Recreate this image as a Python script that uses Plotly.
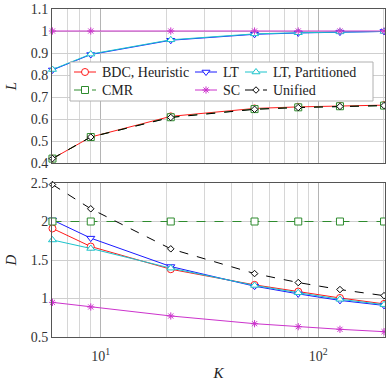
import plotly.graph_objects as go
from plotly.subplots import make_subplots

# Data
K = [6, 9, 21, 51, 81, 126, 201]

L_bdc = [0.42, 0.518, 0.612, 0.648, 0.655, 0.66, 0.663]
L_lt = [0.823, 0.893, 0.958, 0.985, 0.991, 0.995, 0.998]
L_ltp = [0.825, 0.895, 0.96, 0.987, 0.992, 0.996, 0.998]
L_cmr = [0.42, 0.518, 0.608, 0.645, 0.653, 0.658, 0.661]
L_sc = [1, 1, 1, 1, 1, 1, 1]
L_uni = [0.42, 0.518, 0.607, 0.644, 0.652, 0.657, 0.661]

D_bdc = [1.91, 1.675, 1.38, 1.177, 1.09, 1.007, 0.93]
D_lt = [2.02, 1.784, 1.415, 1.16, 1.06, 0.975, 0.91]
D_ltp = [1.76, 1.65, 1.394, 1.17, 1.075, 0.99, 0.92]
D_cmr = [2, 2, 2, 2, 2, 2, 2]
D_sc = [0.95, 0.89, 0.773, 0.673, 0.634, 0.60, 0.569]
D_uni = [2.48, 2.165, 1.645, 1.324, 1.207, 1.116, 1.037]

names = ["BDC, Heuristic", "LT", "LT, Partitioned", "CMR", "SC", "Unified"]

FONT = "Liberation Serif, serif"

# name: color, dash, symbol, marker size
styles = {
    "BDC, Heuristic": ("#ff1a1a", "solid", "circle", 7),
    "LT": ("#1a1aff", "solid", "triangle-down", 7),
    "LT, Partitioned": ("#1cc4cc", "solid", "triangle-up", 7),
    "CMR": ("#2e8b2e", "dash", "square", 7),
    "SC": ("#cc33cc", "solid", "asterisk-open", 6),
    "Unified": ("#000000", "dash", "diamond", 5),
}


def marker_for(color, symbol, size):
    fill = color if symbol.endswith("-open") else "white"
    return dict(symbol=symbol, size=size, color=fill, line=dict(color=color, width=1))


L_series = [L_bdc, L_lt, L_ltp, L_cmr, L_sc, L_uni]
D_series = [D_bdc, D_lt, D_ltp, D_cmr, D_sc, D_uni]

fig = make_subplots(rows=2, cols=1, shared_xaxes=True)

for name, ly, dy in zip(names, L_series, D_series):
    color, dash, symbol, msize = styles[name]
    for row, yy in ((1, ly), (2, dy)):
        fig.add_trace(go.Scatter(
            x=K, y=yy, mode="lines+markers", name=name, showlegend=False,
            line=dict(color=color, width=1, dash=dash),
            marker=marker_for(color, symbol, msize),
            cliponaxis=False,
        ), row=row, col=1)

# Hand-made legend in pixel coordinates on an overlay axis
fig.add_trace(go.Scatter(
    x=[70, 373, 373, 70, 70], y=[62, 62, 101, 101, 62],
    mode="lines", fill="toself", fillcolor="white",
    line=dict(color="#b0b0b0", width=1), showlegend=False, hoverinfo="skip",
    xaxis="x3", yaxis="y3",
))
col_x = [74, 195, 245]
row_y = [72, 90]
for i, name in enumerate(names):
    color, dash, symbol, msize = styles[name]
    x0 = col_x[i % 3]
    y0 = row_y[i // 3]
    fig.add_trace(go.Scatter(
        x=[x0, x0 + 22], y=[y0, y0], mode="lines",
        line=dict(color=color, width=1, dash="dash" if dash == "dash" else "solid"),
        showlegend=False, hoverinfo="skip", xaxis="x3", yaxis="y3",
    ))
    fig.add_trace(go.Scatter(
        x=[x0 + 11], y=[y0], mode="markers",
        marker=marker_for(color, symbol, msize),
        showlegend=False, hoverinfo="skip", xaxis="x3", yaxis="y3",
    ))
    fig.add_annotation(
        x=x0 + 26, y=y0, xref="x3", yref="y3", text=name, showarrow=False,
        xanchor="left", yanchor="middle", font=dict(family=FONT, size=14, color="#222"),
    )

minor_vals = [6, 7, 8, 9, 20, 30, 40, 50, 60, 70, 80, 90, 200]
xcommon = dict(
    type="log", range=[0.776, 2.3075], tickvals=[10, 100],
    ticktext=["10<sup>1</sup>", "10<sup>2</sup>"],
    showgrid=True, gridcolor="#b4b4b4", gridwidth=1,
    minor=dict(tickvals=minor_vals, showgrid=True, gridcolor="#d6d6d6", gridwidth=1),
    showline=True, linecolor="#555", linewidth=1, mirror=True,
    zeroline=False, ticks="", ticklabelstandoff=6,
    tickfont=dict(family=FONT, size=14, color="#333"),
)
fig.update_xaxes(**xcommon)
fig.update_xaxes(showticklabels=False, row=1, col=1)
fig.update_xaxes(title=dict(text="<i>K</i>", font=dict(family=FONT, size=15, color="#222"),
                            standoff=4), row=2, col=1)

ycommon = dict(
    showgrid=True, gridcolor="#cfcfcf", gridwidth=1,
    showline=True, linecolor="#555", linewidth=1, mirror=True,
    zeroline=False, ticks="",
    tickfont=dict(family=FONT, size=14, color="#333"),
)
fig.update_yaxes(**ycommon)
fig.update_yaxes(range=[0.4, 1.1], dtick=0.1, domain=[0.5305, 1],
                 title=dict(text="<i>L</i>", font=dict(family=FONT, size=15, color="#222"),
                            standoff=10), row=1, col=1)
fig.update_yaxes(range=[0.5, 2.5], dtick=0.5, domain=[0, 0.4695],
                 title=dict(text="<i>D</i>", font=dict(family=FONT, size=15, color="#222"),
                            standoff=10), row=2, col=1)

fig.update_layout(
    width=386, height=383,
    margin=dict(l=52, r=1, t=9, b=46),
    plot_bgcolor="rgba(0,0,0,0)", paper_bgcolor="white",
    showlegend=False,
    font=dict(family=FONT),
    xaxis3=dict(domain=[0, 1], anchor="y3", range=[52, 385], visible=False),
    yaxis3=dict(domain=[0, 1], anchor="x3", range=[337, 9], visible=False),
)

fig.write_html("out.html", config={"displayModeBar": False},
               post_script="document.body.style.margin='0';")
